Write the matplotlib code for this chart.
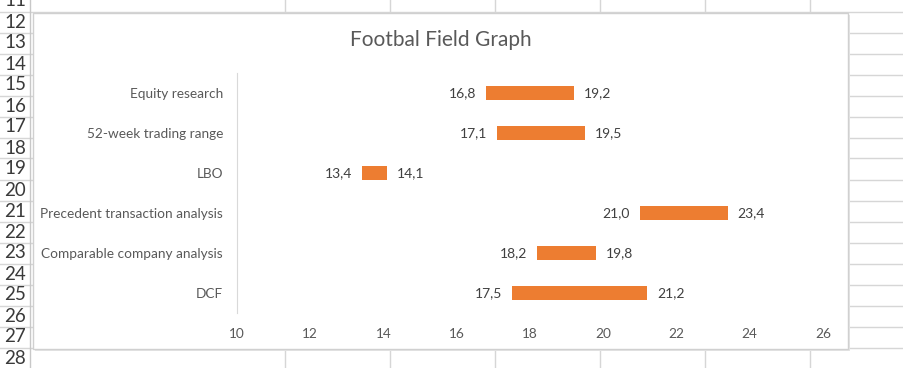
import matplotlib
matplotlib.use("Agg")
import matplotlib.pyplot as plt
from matplotlib.patches import Rectangle
from matplotlib.lines import Line2D

# ---- data ----
categories = ["Equity research", "52-week trading range", "LBO",
              "Precedent transaction analysis", "Comparable company analysis", "DCF"]
low_values = [16.8, 17.1, 13.4, 21.0, 18.2, 17.5]
high_values = [19.2, 19.5, 14.1, 23.4, 19.8, 21.2]
x_ticks = [10, 12, 14, 16, 18, 20, 22, 24, 26]
row_numbers = list(range(11, 29))
title = "Footbal Field Graph"

W, H = 904, 368
plt.rcParams['font.family'] = ['Lato', 'DejaVu Sans']
fig = plt.figure(figsize=(W / 100, H / 100), dpi=100)
fig.patch.set_facecolor("white")

def fy(py):
    return 1 - py / H

def fx(px):
    return px / W

grid_c = "#d6d6d6"
# spreadsheet background grid
for k in range(-1, 18):
    y = 11.5 + 21 * k
    fig.add_artist(Line2D([fx(0), 1], [fy(y), fy(y)], color=grid_c, lw=1, zorder=0))
for x in [30, 285, 390, 495, 600, 705, 810]:
    fig.add_artist(Line2D([fx(x), fx(x)], [0, 1], color=grid_c if x != 30 else "#c8c8c8", lw=1, zorder=0))
for r in row_numbers:
    yc = 22 + (r - 12) * 21
    fig.text(fx(15), fy(yc), str(r), ha="center", va="center", fontsize=13.5, color="#3a3a3a", zorder=1)

# chart area (with faint shadow)
fig.add_artist(Rectangle((fx(35), fy(351)), fx(815), (351 - 15) / H, transform=fig.transFigure,
                         facecolor="#e4e4e4", edgecolor="none", zorder=2))
fig.add_artist(Rectangle((fx(33), fy(349)), fx(815), (349 - 13) / H, transform=fig.transFigure,
                         facecolor="white", edgecolor="#d0d0d0", lw=1, zorder=3))

fig.text(fx(441), fy(40), title, ha="center", va="center", fontsize=15, color="#595959", zorder=5)

ax = fig.add_axes([fx(237), fy(313), fx(823) - fx(237), fy(73) - fy(313)], zorder=6)
ax.set_facecolor("none")
ypos = list(range(len(categories)))
widths = [h - l for l, h in zip(low_values, high_values)]
ax.barh(ypos, widths, left=low_values, height=0.36, color="#ED7D31")
for y, l, h in zip(ypos, low_values, high_values):
    ax.annotate(f"{l:.1f}".replace(".", ","), (l, y), xytext=(-7, 0), textcoords="offset points",
                ha="right", va="center", fontsize=10, color="#404040")
    ax.annotate(f"{h:.1f}".replace(".", ","), (h, y), xytext=(7, 0), textcoords="offset points",
                ha="left", va="center", fontsize=10, color="#404040")

ax.set_xlim(x_ticks[0], x_ticks[-1])
ax.set_ylim(len(categories) - 0.5, -0.5)
ax.set_xticks(x_ticks)
ax.set_xticklabels([str(t) for t in x_ticks])
ax.set_yticks(ypos)
ax.set_yticklabels(categories)
for s in ["top", "right", "bottom"]:
    ax.spines[s].set_visible(False)
ax.spines["left"].set_color("#d9d9d9")
ax.tick_params(axis="both", length=0, colors="#595959", labelsize=9.8)
ax.tick_params(axis="x", pad=11)
ax.tick_params(axis="y", pad=10)

fig.savefig("out.png", dpi=100, facecolor="white")
